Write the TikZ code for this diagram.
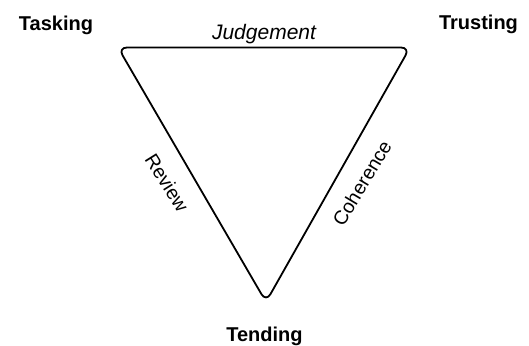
\documentclass[tikz,border=0pt]{standalone}
\usepackage{fontspec}
\setmainfont{Liberation Sans}
\begin{document}
\begin{tikzpicture}[x=1pt,y=-1pt,
  corner/.style={font=\bfseries\fontsize{20}{24}\selectfont, inner sep=0pt},
  toplabel/.style={font=\itshape\fontsize{21}{25}\selectfont, inner sep=0pt},
  sidelabel/.style={font=\fontsize{19.5}{23}\selectfont, inner sep=0pt},
  tri/.style={line width=1.8pt, rounded corners=9pt, line join=round}]
\useasboundingbox (0,0) rectangle (529,345);
\coordinate (tl) at (118,47.5);
\coordinate (tr) at (410,47.5);
\coordinate (bt) at (266,302);
\draw[tri] (tl) -- (tr) -- (bt) -- cycle;
\node[corner] (tasking) at (56,25.5) {Tasking};
\node[corner] (trusting) at (478.5,24.7) {Trusting};
\node[corner] (tending) at (264.5,336) {Tending};
\node[toplabel] (judgement) at (264,34.5) {Judgement};
\node[sidelabel, rotate=-58] (review) at (167,183) {Review};
\node[sidelabel, rotate=59] (coherence) at (362,183) {Coherence};
\end{tikzpicture}
\end{document}
